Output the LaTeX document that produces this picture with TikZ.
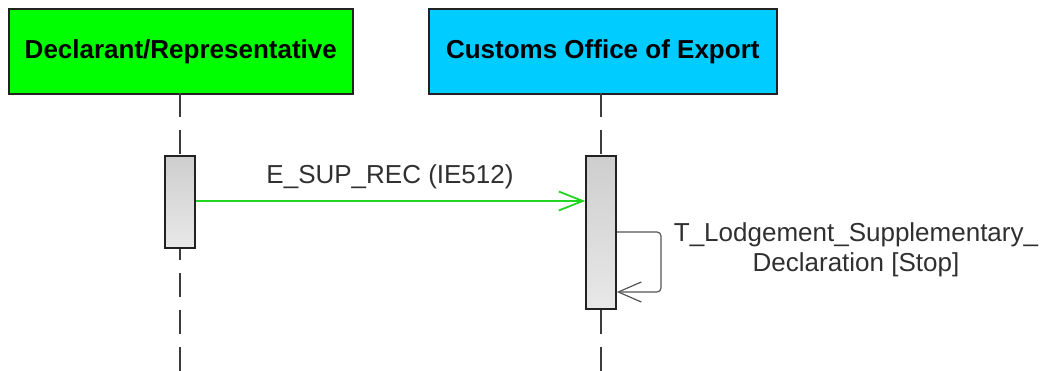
\documentclass[tikz,border=0pt]{standalone}
\usepackage{fontspec}
\setmainfont{Liberation Sans}
\usetikzlibrary{arrows.meta,calc}
\definecolor{hgreen}{RGB}{0,255,0}
\definecolor{hcyan}{RGB}{0,204,255}
\definecolor{boxline}{RGB}{34,34,34}
\definecolor{lifeline}{RGB}{60,60,60}
\definecolor{actTop}{RGB}{206,206,206}
\definecolor{actBot}{RGB}{232,232,232}
\definecolor{msggreen}{RGB}{32,214,32}
\definecolor{txtgray}{RGB}{48,48,48}
\definecolor{loopgray}{RGB}{85,85,85}
\tikzset{
  header/.style={draw=boxline, line width=1.6pt, minimum height=85pt, inner sep=0pt,
    font=\fontsize{26}{30}\selectfont\bfseries, text=black, anchor=north west},
  lifelinestyle/.style={draw=lifeline, line width=1.6pt, dash pattern=on 24pt off 13pt},
  activation/.style={draw=boxline, line width=1.6pt, top color=actTop, bottom color=actBot,
    minimum width=30pt, inner sep=0pt, anchor=north},
  msg/.style={draw=msggreen, line width=1.8pt, -{Straight Barb[length=24pt,width=19pt,line width=1.8pt]}},
  selfmsg/.style={draw=loopgray, line width=1.2pt, rounded corners=4pt, -{Straight Barb[length=23pt,width=20pt,line width=1.2pt]}},
  lbl/.style={font=\fontsize{26}{30}\selectfont, text=txtgray, inner sep=0pt},
}
\begin{document}
\begin{tikzpicture}[x=1pt,y=-1pt]
\useasboundingbox (0,0) rectangle (1044,371);
% headers
\node[header, fill=hgreen, minimum width=344pt] (h1) at (8,8) {Declarant/Representative};
\node[header, fill=hcyan, minimum width=348pt] (h2) at (428,8) {Customs Office of Export};
% lifeline coordinates
\coordinate (l1top) at (180,93);
\coordinate (l2top) at (601,93);
\coordinate (l1a) at (180,155);
\coordinate (l2a) at (601,155);
\coordinate (l1b) at (180,236);
\coordinate (l2b) at (601,236);
\coordinate (l1end) at (180,371);
\coordinate (l2end) at (601,371);
\path[lifelinestyle] (l1top) -- (l1a);
\path[lifelinestyle] (l2top) -- (l2a);
\path[lifelinestyle] (l1b) -- (l1end);
\path[lifelinestyle] (l2b) -- (l2end);
% activations
\node[activation, minimum height=92pt] (a1) at (l1a) {};
\node[activation, minimum height=153pt] (a2) at (l2a) {};
% message
\coordinate (my) at (0,201);
\draw[msg] (a1.east |- my) -- (a2.west |- my);
\node[lbl, anchor=base] (m1) at (390,184) {E\_SUP\_REC (IE512)};
% self message
\coordinate (sy1) at (0,232);
\coordinate (sy2) at (0,292);
\coordinate (sx) at (661,0);
\draw[selfmsg] (a2.east |- sy1) -- (sx |- sy1) -- (sx |- sy2) -- (a2.east |- sy2);
\node[lbl, align=center, anchor=north] (m2) at (856,222) {T\_Lodgement\_Supplementary\_\\Declaration [Stop]};
\end{tikzpicture}
\end{document}
